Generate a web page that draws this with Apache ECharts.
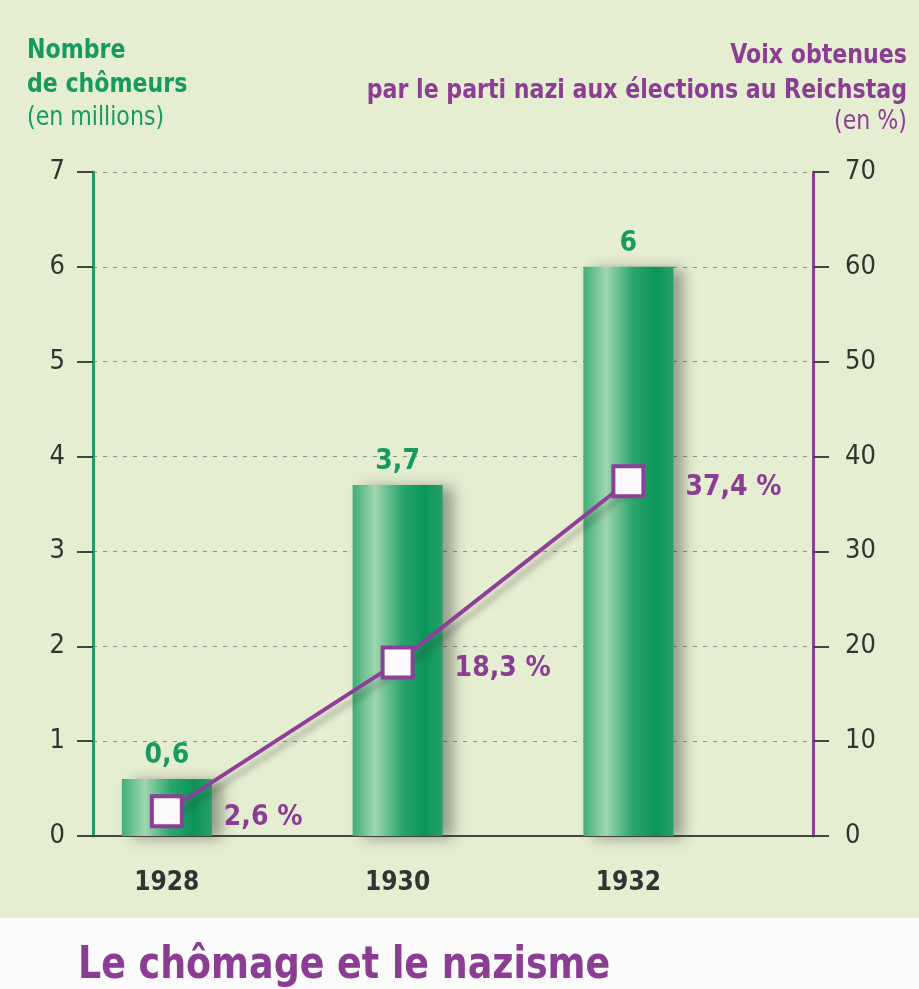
<!DOCTYPE html>
<html>
<head>
<meta charset="utf-8">
<script src="https://cdn.jsdelivr.net/npm/echarts@6/dist/echarts.min.js"></script>
<style>
  html, body { margin: 0; padding: 0; background: #e6eed1; }
  #chart { width: 919px; height: 989px; }
</style>
</head>
<body>
<div id="chart"></div>
<script>
var years = [1928, 1930, 1932];
var chomeurs = [0.6, 3.7, 6];        // millions
var voixNazi = [2.6, 18.3, 37.4];    // %
var leftTicks = [0, 7, 1];           // min, max, interval
var rightTicks = [0, 70, 10];

var GREEN = '#179a60';
var PURPLE = '#8b3d93';
var FONT = "'DejaVu Sans Condensed', 'Liberation Sans Narrow', 'Noto Sans', sans-serif";

function fr(v) { return String(v).replace('.', ','); }

// header texts, squeezed a bit to get the narrow print look
function txt(s, x, y, size, bold, color, align, sx) {
    return {
        type: 'text', silent: true, z: 10,
        x: x, y: y, scaleX: sx || 0.91,
        style: {
            text: s, x: 0, y: 0,
            font: (bold ? 'bold ' : '') + size + 'px ' + FONT,
            fill: color,
            align: align || 'left',
            verticalAlign: 'middle'
        }
    };
}

var chart = echarts.init(document.getElementById('chart'));

var option = {
    backgroundColor: '#e6eed1',
    textStyle: { fontFamily: FONT },
    graphic: [
        {
            type: 'rect', z: -10, silent: true,
            shape: { x: 0, y: 918, width: 919, height: 80 },
            style: { fill: '#fbfbfb' }
        },
        txt('Nombre', 27, 51, 27, true, GREEN),
        txt('de chômeurs', 27, 85, 27, true, GREEN),
        txt('(en millions)', 27, 118, 27, false, GREEN),
        txt('Voix obtenues', 907, 56, 27, true, PURPLE, 'right'),
        txt('par le parti nazi aux élections au Reichstag', 907, 91, 27, true, PURPLE, 'right'),
        txt('(en %)', 907, 122, 27, false, PURPLE, 'right'),
        txt('Le chômage et le nazisme', 78, 967, 44, true, PURPLE, 'left', 0.92)
    ],
    grid: { left: 93, right: 106, top: 172, bottom: 153 },
    xAxis: {
        type: 'value',
        min: 1927.36,
        max: 1933.6,
        splitLine: { show: false },
        axisLine: { show: true, lineStyle: { color: '#444', width: 2 } },
        axisTick: { show: false },
        axisLabel: {
            customValues: years,
            margin: 34,
            fontFamily: FONT, fontSize: 26, fontWeight: 'bold', color: '#333',
            formatter: function (v) { return String(v); }
        }
    },
    yAxis: [{
        type: 'value',
        min: leftTicks[0], max: leftTicks[1], interval: leftTicks[2],
        axisLine: { show: true, lineStyle: { color: '#1f9e66', width: 3 } },
        axisTick: { show: true, length: 16, lineStyle: { color: '#444', width: 2 } },
        axisLabel: { margin: 28, fontFamily: FONT, fontSize: 27, color: '#333' },
        splitLine: { show: true, lineStyle: { color: '#8f8f8f', width: 1, type: [4, 6] } }
    }, {
        type: 'value',
        position: 'right',
        min: rightTicks[0], max: rightTicks[1], interval: rightTicks[2],
        axisLine: { show: true, lineStyle: { color: '#8e3f97', width: 3 } },
        axisTick: { show: true, length: 16, lineStyle: { color: '#444', width: 2 } },
        axisLabel: { margin: 32, fontFamily: FONT, fontSize: 27, color: '#333' },
        splitLine: { show: false }
    }],
    series: [{
        name: 'Nombre de chômeurs',
        type: 'bar',
        barWidth: 90,
        z: 2,
        data: years.map(function (y, i) { return [y, chomeurs[i]]; }),
        itemStyle: {
            color: new echarts.graphic.LinearGradient(0, 0, 1, 0, [
                { offset: 0, color: '#3fae76' },
                { offset: 0.25, color: '#9fd6b0' },
                { offset: 0.55, color: '#2aa56c' },
                { offset: 0.8, color: '#0b9459' },
                { offset: 1, color: '#27a06a' }
            ]),
            shadowColor: 'rgba(40,50,40,0.45)',
            shadowBlur: 14,
            shadowOffsetX: 10,
            shadowOffsetY: 2
        },
        label: {
            show: true,
            position: 'top',
            distance: 9,
            fontFamily: FONT, fontSize: 28, fontWeight: 'bold', color: GREEN,
            formatter: function (p) { return fr(p.value[1]); }
        }
    }, {
        name: 'Voix nazi',
        type: 'line',
        yAxisIndex: 1,
        z: 5,
        symbol: 'rect',
        symbolSize: 30,
        data: years.map(function (y, i) { return [y, voixNazi[i]]; }),
        lineStyle: {
            color: '#8e3f97', width: 4,
            shadowColor: 'rgba(40,40,40,0.35)', shadowBlur: 6, shadowOffsetX: 5, shadowOffsetY: 6
        },
        itemStyle: { color: '#fdfbfd', borderColor: '#8e3f97', borderWidth: 4 },
        label: {
            show: true,
            position: 'right',
            distance: 40,
            offset: [0, 6],
            fontFamily: FONT, fontSize: 28, fontWeight: 'bold', color: PURPLE,
            formatter: function (p) { return fr(p.value[1]) + ' %'; }
        }
    }]
};

chart.setOption(option);
</script>
</body>
</html>
